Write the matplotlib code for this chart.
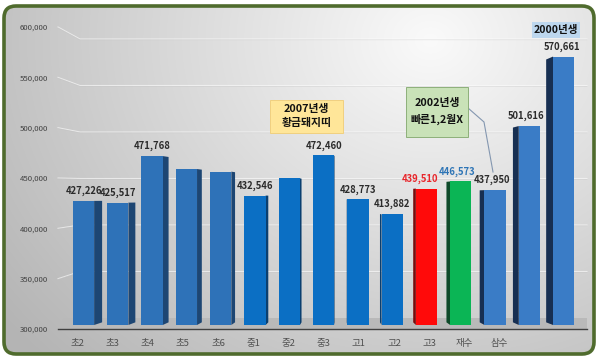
import numpy as np
import matplotlib
matplotlib.use('Agg')
import matplotlib.pyplot as plt
from matplotlib.patches import Polygon, FancyBboxPatch, Rectangle

plt.rcParams['font.family'] = ['Noto Sans CJK KR', 'DejaVu Sans']

# data
categories = ['초2', '초3', '초4', '초5', '초6', '중1', '중2', '중3',
              '고1', '고2', '고3', '재수', '삼수', '', '']
values = [427226, 425517, 471768, 458900, 456300, 432546, 449700, 472460,
          428773, 413882, 439510, 446573, 437950, 501616, 570661]
show_label = [True, True, True, False, False, True, False, True,
              True, True, True, True, True, True, True]
yticks = [300000, 350000, 400000, 450000, 500000, 550000, 600000]

W, H = 600, 361
fig = plt.figure(figsize=(W / 100, H / 100), dpi=100)
fig.patch.set_facecolor('white')

# background panel with soft gradient inside green rounded frame
bg = fig.add_axes([0, 0, 1, 1])
bg.set_xlim(0, W)
bg.set_ylim(H, 0)
bg.axis('off')
gx, gy = np.meshgrid(np.arange(W), np.arange(H))
d = np.sqrt(((gx - 430) / 450.0) ** 2 + ((gy - 40) / 380.0) ** 2)
shade = np.clip(250 - 58 * d, 180, 252) / 255.0
img = bg.imshow(np.dstack([shade, shade, shade]), extent=(0, W, H, 0), zorder=0)
frame = FancyBboxPatch((4, 6), 590, 348, boxstyle='round,pad=0,rounding_size=12',
                       facecolor='none', edgecolor='#4F6B2D', linewidth=2.6, zorder=2)
bg.add_patch(frame)
img.set_clip_path(frame)

# main axes: x in category units, y in value units
px0 = 83.5   # pixel center of first bar
step = 34.3  # pixel spacing
left_px, right_px = 58, 587
top_px, bot_px = 27, 329
ax = fig.add_axes([left_px / W, (H - bot_px) / H, (right_px - left_px) / W, (bot_px - top_px) / H])
ax.set_facecolor('none')
ax.set_xlim((left_px - px0) / step, (right_px - px0) / step)
ax.set_ylim(300000, 600000)
for s in ['top', 'right', 'left']:
    ax.spines[s].set_visible(False)
ax.spines['bottom'].set_color('#404040')
ax.spines['bottom'].set_linewidth(1.0)
ax.spines['bottom'].set_zorder(6)

per_px = 300000 / (bot_px - top_px)

def back_val(v):
    # back wall is compressed in the 3D view
    yb = 318 - (v - 300000) * 0.93e-3
    return 300000 + (bot_px - yb) * per_px

def px_to_data(px, py):
    return (px - px0) / step, 300000 + (bot_px - py) * per_px

x0, x1 = ax.get_xlim()
xb = (80 - px0) / step
for v in yticks[1:]:
    vb = back_val(v)
    ax.plot([x0, xb, x1], [v, vb, vb], color='#ffffff', lw=0.8, alpha=0.6, zorder=1, clip_on=False)
    ax.plot([x0, xb, x1], [v - 0.8 * per_px, vb - 0.8 * per_px, vb - 0.8 * per_px],
            color='#bdbdbd', lw=0.5, zorder=1, alpha=0.4, clip_on=False)

# floor
fb = back_val(300000)
floor = Polygon([[x0, 300000], [x1, 300000], [x1 + 0.05, fb], [(64 - px0) / step, fb]],
                closed=True, facecolor='#b9b9b9', edgecolor='none', zorder=2)
ax.add_patch(floor)

# bars
x = np.arange(len(values))
base = 300000 + 4 * per_px
front = []
side = []
for i in x:
    if i <= 4:
        front.append('#2E72B8'); side.append('#1D4673')
    elif i <= 9:
        front.append('#0B6FC4'); side.append('#0A3F70')
    elif i == 10:
        front.append('#FF0A0A'); side.append('#7A0C0C')
    elif i == 11:
        front.append('#0BB555'); side.append('#0E4A2A')
    else:
        front.append('#3A7CC6'); side.append('#172F52')

hw = 0.31
ax.bar(x, np.array(values) - base, bottom=base, width=2 * hw, color=front,
       edgecolor='none', zorder=4)

vp_x, vp_v = 7.5, 430000
for i, v in enumerate(values):
    dx = 0.031 * (vp_x - i)
    edge = i + hw if dx > 0 else i - hw
    t = 0.021
    top_b = v + t * (vp_v - v)
    bot_b = base + t * (vp_v - base)
    poly = Polygon([[edge, base], [edge, v], [edge + dx, top_b], [edge + dx, bot_b]],
                   closed=True, facecolor=side[i], edgecolor='none', zorder=3)
    ax.add_patch(poly)

# value labels
for i, v in enumerate(values):
    if not show_label[i]:
        continue
    col = '#2b2b2b'
    if i == 10:
        col = '#E8252A'
    elif i == 11:
        col = '#2E75B6'
    shift = 0.0
    if i == 10:
        shift = -0.18
    elif 11 <= i <= 13:
        shift = -0.1
    elif i == 14:
        shift = -0.06
    ax.text(i + shift, v + 10 * per_px, f'{v:,}', ha='center', va='center',
            fontsize=6.8, fontweight='bold', color=col, zorder=7)

# axis labels
ax.set_yticks(yticks)
ax.set_yticklabels([f'{v:,}' for v in yticks], fontsize=5.6, color='#404040')
ax.tick_params(axis='y', length=0, pad=7)
ax.set_xticks(x)
ax.set_xticklabels([])
ax.tick_params(axis='x', length=0)
for i, c in enumerate(categories):
    lx = i - 0.18 * (7 - i) / 7
    ax.text(lx, 300000 - 14 * per_px, c, ha='center', va='center', fontsize=6.8,
            color='#505050', zorder=7)

# annotation boxes (pixel extents from the picture)
def box(l, t, r, b, fc, ec):
    (xl, yt), (xr, yb) = px_to_data(l, t), px_to_data(r, b)
    ax.add_patch(Rectangle((xl, yb), xr - xl, yt - yb, facecolor=fc, edgecolor=ec,
                           lw=0.7, zorder=8, clip_on=False))

box(270, 100, 343, 133, '#FFE699', '#F0D080')
tx, ty = px_to_data(306.5, 116)
ax.text(tx, ty, '2007년생\n황금돼지띠', ha='center', va='center', fontsize=7.8,
        fontweight='bold', color='#111111', linespacing=1.45, zorder=9)

box(406, 87, 468, 137, '#C9E2B8', '#8DB07A')
tx, ty = px_to_data(437, 111.5)
ax.text(tx, ty, '2002년생\n빠른1,2월X', ha='center', va='center', fontsize=7.8,
        fontweight='bold', color='#111111', linespacing=1.7, zorder=9)
lp = [px_to_data(468, 108), px_to_data(484, 122), px_to_data(493, 172)]
ax.plot([p[0] for p in lp], [p[1] for p in lp], color='#8497B0', lw=0.8, zorder=7)

box(532, 22, 580, 38, '#BDD7EE', 'none')
tx, ty = px_to_data(556, 30)
ax.text(tx, ty, '2000년생', ha='center', va='center', fontsize=7.6,
        fontweight='bold', color='#111111', zorder=9, clip_on=False)

plt.savefig('out.png', dpi=100)
